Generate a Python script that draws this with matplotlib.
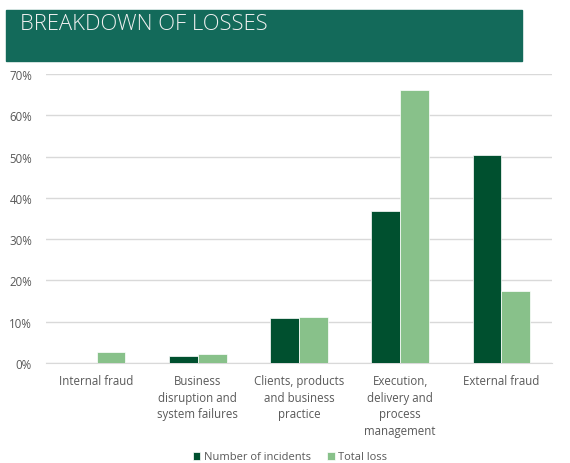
import matplotlib.pyplot as plt
import matplotlib.patches as mpatches
import numpy as np

categories = ["Internal fraud", "Business\ndisruption and\nsystem failures",
              "Clients, products\nand business\npractice",
              "Execution,\ndelivery and\nprocess\nmanagement", "External fraud"]
incidents = [0.0, 1.7, 11.0, 36.7, 50.3]
total_loss = [2.6, 2.3, 11.2, 66.1, 17.4]
yticks = [0, 10, 20, 30, 40, 50, 60, 70]

dark = "#00502F"
light = "#88C18A"
grey = "#595959"

plt.rcParams['font.family'] = ['Open Sans', 'DejaVu Sans']

fig = plt.figure(figsize=(5.7, 4.64), dpi=100)
ax = fig.add_axes([46/570, 1-364/464, (552-46)/570, (364-75)/464])

# header banner
fig.patches.append(mpatches.Rectangle((6/570, 1-62/464), 516/570, 51/464,
                                      transform=fig.transFigure, color="#136A5A", zorder=0))
fig.text(20/570, 1-25/464, "BREAKDOWN OF LOSSES", color="#F0F0F0", fontsize=15.8,
         fontweight='light', va='center', ha='left')

x = np.arange(len(categories))
w = 0.285
ax.bar(x - w/2, incidents, w, color=dark, label="Number of incidents", zorder=3,
       edgecolor='white', linewidth=0.5)
ax.bar(x + w/2, total_loss, w, color=light, label="Total loss", zorder=3,
       edgecolor='white', linewidth=0.5)

ax.set_xlim(-0.5, len(categories) - 0.5)
ax.set_ylim(0, 70)
ax.set_yticks(yticks)
ax.set_yticklabels([f"{v}%" for v in yticks])
ax.yaxis.grid(True, color="#D9D9D9", linewidth=1, zorder=0)
ax.set_xticks(x)
ax.set_xticklabels(categories, linespacing=1.35)
ax.tick_params(length=0, colors=grey, labelsize=8.3)
ax.tick_params(axis='y', pad=10)
ax.tick_params(axis='x', pad=8)
for s in ["top", "right", "left"]:
    ax.spines[s].set_visible(False)
ax.spines["bottom"].set_color("#D9D9D9")

fig.legend(loc='center', bbox_to_anchor=(290/570, 1-458/464), ncol=2, frameon=False,
           fontsize=8, handlelength=0.7, handleheight=0.7, handletextpad=0.3,
           columnspacing=1.5, labelcolor=grey)

fig.savefig("out.png", dpi=100)
